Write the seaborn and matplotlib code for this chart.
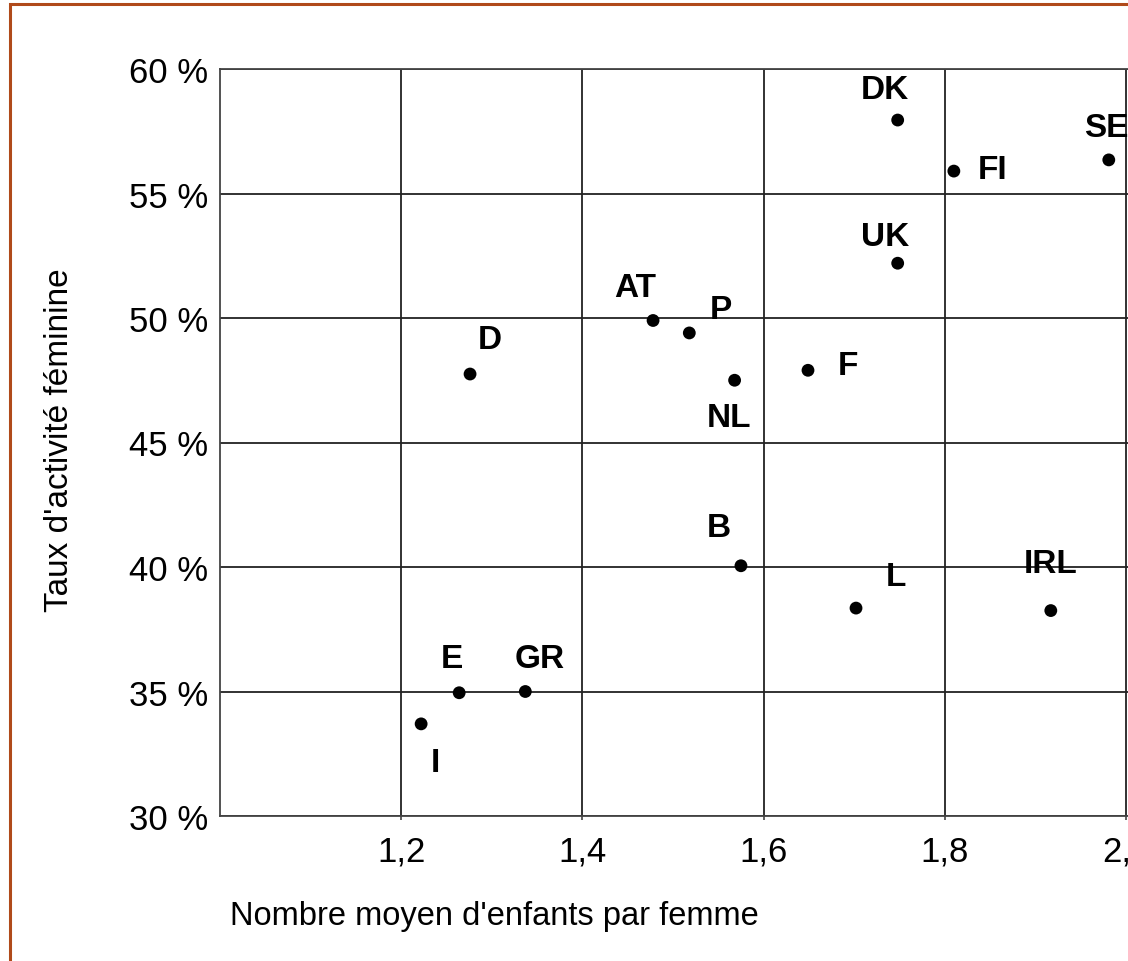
import matplotlib
matplotlib.use("Agg")
import matplotlib.pyplot as plt
import matplotlib.patches as patches
import pandas as pd
import seaborn as sns

# data
pays = ["DK", "FI", "SE", "UK", "AT", "P", "D", "NL", "F", "B", "L", "IRL", "E", "GR", "I"]
enfants = [1.748, 1.810, 1.981, 1.748, 1.478, 1.518, 1.276, 1.568, 1.649, 1.575, 1.702, 1.917, 1.264, 1.337, 1.222]
activite = [57.95, 55.9, 56.35, 52.2, 49.9, 49.4, 47.75, 47.5, 47.9, 40.05, 38.35, 38.25, 34.95, 35.0, 33.7]

x_ticks = [1.2, 1.4, 1.6, 1.8, 2.0]
y_ticks = [30, 35, 40, 45, 50, 55, 60]

# label offsets in pixels (dx, dy) relative to each dot
offsets = {
    "DK": (-13, 31), "FI": (39, 2), "SE": (-3, 32), "UK": (-13, 27),
    "AT": (-18, 33), "P": (32, 23), "D": (20, 35), "NL": (-6, -37),
    "F": (40, 5), "B": (-22, 38), "L": (40, 32), "IRL": (0, 47),
    "E": (-7, 34), "GR": (14, 33), "I": (14, -39),
}

df = pd.DataFrame({"pays": pays, "enfants": enfants, "activite": activite})

sns.set_style("white")
plt.rcParams["font.family"] = ["Liberation Sans", "DejaVu Sans"]
plt.rcParams["text.color"] = "black"
plt.rcParams["xtick.color"] = "black"
plt.rcParams["ytick.color"] = "black"
plt.rcParams["axes.labelcolor"] = "black"

W, H = 1128, 962
fig = plt.figure(figsize=(W / 100, H / 100), dpi=100)
# axes run past the right edge of the figure, as in the cropped original
x0, x1 = 1.0, 2.2
px_per_unit = 906
ax = fig.add_axes([220 / W, 1 - 817 / H, (x1 - x0) * px_per_unit / W, (817 - 70) / H])

sns.scatterplot(data=df, x="enfants", y="activite", color="black", s=85,
                edgecolor="none", ax=ax, zorder=3)

for nom, xv, yv in zip(pays, enfants, activite):
    dx, dy = offsets[nom]
    ax.annotate(nom, (xv, yv), xytext=(dx, dy), textcoords="offset pixels",
                ha="center", va="center", fontsize=24, fontweight="bold", color="black")

ax.set_xlim(x0, x1)
ax.set_ylim(30, 60)
ax.set_xticks(x_ticks)
ax.set_xticklabels([f"{t:.1f}".replace(".", ",") for t in x_ticks])
ax.set_yticks(y_ticks)
ax.set_yticklabels([f"{t} %" for t in y_ticks])
ax.tick_params(axis="x", labelsize=25, pad=10, length=3, width=1.2, color="#444",
               labelcolor="black", direction="out", bottom=True)
ax.tick_params(axis="y", labelsize=25, pad=8.5, length=0, labelcolor="black")
ax.grid(True, color="#222", linewidth=1.3)
for s in ["left", "bottom", "top"]:
    ax.spines[s].set_color("#444")
    ax.spines[s].set_linewidth(1.3)
ax.spines["right"].set_visible(False)
ax.set_xlabel("")
ax.set_ylabel("")

fig.text(230 / W, 1 - 916 / H, "Nombre moyen d'enfants par femme", ha="left", va="center",
         fontsize=23.5, color="black")
fig.text(60 / W, 1 - 440 / H, "Taux d'activité féminine", ha="center", va="center",
         rotation=90, fontsize=24, color="black")

# brown frame (top and left edges visible)
fig.patches.append(patches.Rectangle((10 / W, -0.2), 2, 1.2 - 5 / H, transform=fig.transFigure,
                                     fill=False, edgecolor="#b04a1a", linewidth=2.2))

fig.savefig("out.png", dpi=100)
